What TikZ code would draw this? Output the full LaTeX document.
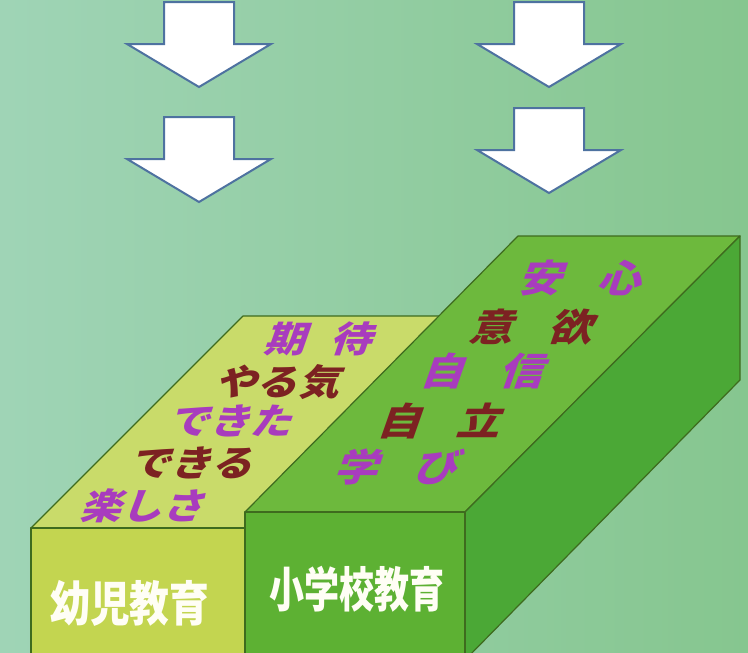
\documentclass[tikz,border=0pt]{standalone}
\usepackage{fontspec}
\newfontfamily\jp{Noto Sans CJK JP}
\definecolor{bgl}{HTML}{9FD4B6}
\definecolor{bgr}{HTML}{86C68F}
\definecolor{yfront}{HTML}{C3D550}
\definecolor{ytop}{HTML}{C9DB6A}
\definecolor{gfront}{HTML}{5DB133}
\definecolor{gtop}{HTML}{6DB93D}
\definecolor{gside}{HTML}{4BA836}
\definecolor{edgegreen}{HTML}{3E6B1E}
\definecolor{arrowblue}{HTML}{4E72A0}
\definecolor{txtmag}{HTML}{A83CBE}
\definecolor{txtdark}{HTML}{7C2222}
\begin{document}
\begin{tikzpicture}[x=1pt,y=-1pt,
  face/.style={draw=edgegreen, line width=1.2pt, line join=round},
  arrowbody/.style={draw=arrowblue, fill=white, line width=2pt, line join=miter},
  pics/darrow/.style={code={
    \draw[arrowbody] (-35,0) -- (35,0) -- (35,42) -- (72,42) -- (0,85) -- (-72,42) -- (-35,42) -- cycle;}},
  toptext/.style={font=\jp\bfseries\fontsize{36}{40}\selectfont, xslant=0.35, xscale=1.15, inner sep=0pt},
  bigtop/.style={font=\jp\bfseries\fontsize{38}{42}\selectfont},
  mag/.style={toptext, text=txtmag},
  dark/.style={toptext, text=txtdark},
  frontlabel/.style={font=\jp\bfseries\fontsize{48}{50}\selectfont, text=white!96!yellow, inner sep=0pt}
]
\useasboundingbox (0,0) rectangle (748,653);
\shade[left color=bgl, right color=bgr] (0,0) rectangle (748,653);

% arrows
\pic at (199,2) {darrow};
\pic at (199,117) {darrow};
\pic at (549,2) {darrow};
\pic at (549,108) {darrow};

% left block (kindergarten)
\filldraw[face, fill=ytop] (31,528) -- (243,316) -- (458,316) -- (245,528) -- cycle;
\filldraw[face, fill=yfront] (31,528) rectangle (245,660);

% right block (elementary)
\filldraw[face, fill=gtop] (245,512) -- (518,236) -- (740,236) -- (465,512) -- cycle;
\filldraw[face, fill=gside] (465,512) -- (740,236) -- (740,380) -- (465,660) -- cycle;
\filldraw[face, fill=gfront] (245,512) rectangle (465,660);

% top text, left block
\node[mag]  (kitai)   at (322,339) {期\hspace{0.6em}待};
\node[dark] (yaruki)  at (281,382) {やる気};
\node[mag]  (dekita)  at (234,421) {できた};
\node[dark] (dekiru)  at (195,463) {できる};
\node[mag]  (tanoshisa) at (146,506) {楽しさ};

% top text, right block
\node[mag, bigtop]  (anshin)  at (584,278) {安\hspace{0.8em}心};
\node[dark, bigtop] (iyoku)   at (535,327) {意\hspace{0.8em}欲};
\node[mag, bigtop]  (jishin)  at (486,371) {自\hspace{0.8em}信};
\node[dark, bigtop] (jiritsu) at (443,421) {自\hspace{0.8em}立};
\node[mag, bigtop]  (manabi)  at (400,467) {学\hspace{0.8em}び};

% front labels
\node[frontlabel, xscale=0.83] (youji) at (130,603) {幼児教育};
\node[frontlabel, xscale=0.73] (shogakko) at (357,589) {小学校教育};
\end{tikzpicture}
\end{document}
